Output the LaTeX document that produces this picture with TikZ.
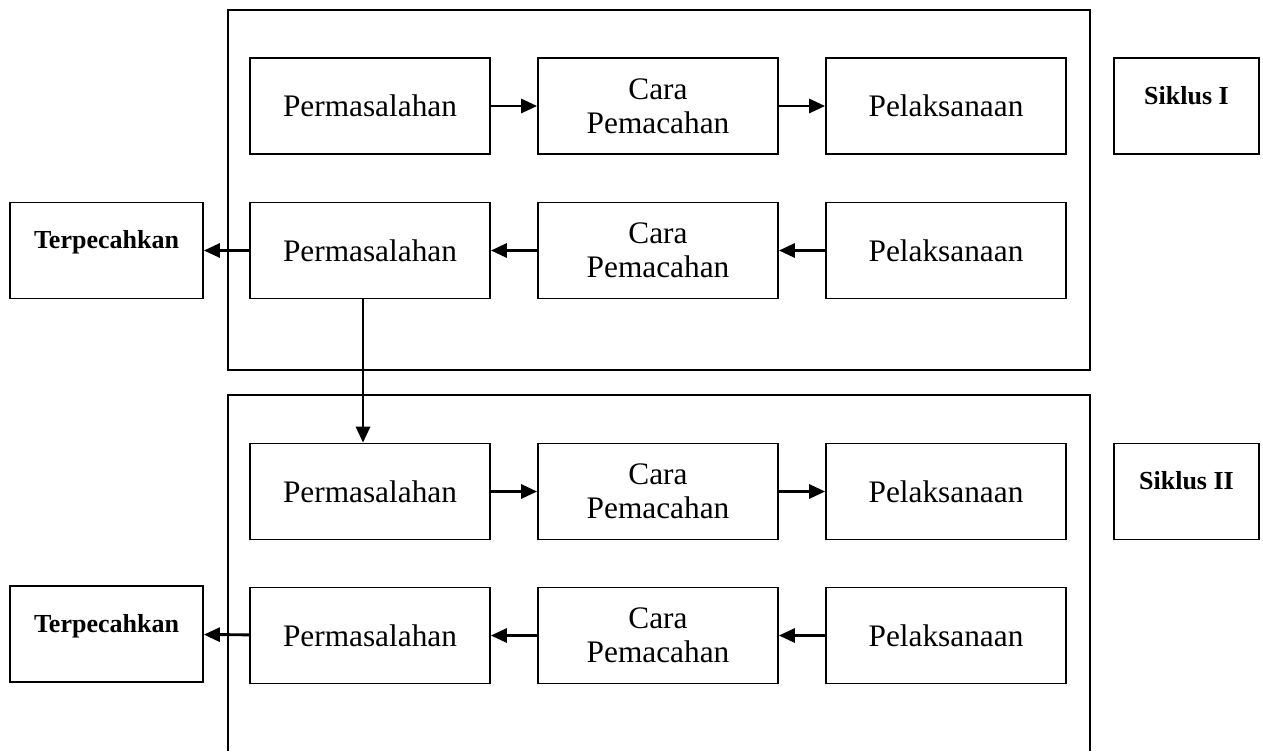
\documentclass[tikz,border=0pt]{standalone}
\usepackage{fontspec}
\setmainfont{Liberation Serif}
\usetikzlibrary{arrows.meta,positioning,calc}

\begin{document}
\begin{tikzpicture}[
    x=0.75pt, y=-0.75pt,
    >={Triangle[length=12pt,width=10.5pt]},
    stepBox/.style={draw, line width=1.3pt, minimum width=180pt, minimum height=72pt,
      align=center, font=\fontsize{23.5}{25.5}\selectfont},
    sideBox/.style={draw, line width=1.3pt, minimum height=72pt, text height=14pt, text depth=17pt,
      font=\fontsize{19.5}{22}\selectfont\bfseries},
    frameLine/.style={draw, line width=1.3pt},
    flow/.style={->, line width=2.2pt},
  ]
  \useasboundingbox (0,0) rectangle (1263,751);
  % frames
  \draw[frameLine] (228,10) rectangle (1090,370);
  \draw[frameLine] (228,751) -- (228,395) -- (1090,395) -- (1090,751);
  % siklus I
  \node[stepBox] (probA) at (370,106) {Permasalahan};
  \node[stepBox] (caraA) at (658,106) {Cara\\Pemacahan};
  \node[stepBox] (pelA)  at (946,106) {Pelaksanaan};
  \node[stepBox] (probB) at (370,250.5) {Permasalahan};
  \node[stepBox] (caraB) at (658,250.5) {Cara\\Pemacahan};
  \node[stepBox] (pelB)  at (946,250.5) {Pelaksanaan};
  \node[sideBox, minimum width=108.75pt] (siklusA) at (1186.5,106) {Siklus I};
  \node[sideBox, minimum width=144.75pt] (doneA) at (106.5,250.5) {Terpecahkan};
  % siklus II
  \node[stepBox] (probC) at (370,491.5) {Permasalahan};
  \node[stepBox] (caraC) at (658,491.5) {Cara\\Pemacahan};
  \node[stepBox] (pelC)  at (946,491.5) {Pelaksanaan};
  \node[stepBox] (probD) at (370,635.5) {Permasalahan};
  \node[stepBox] (caraD) at (658,635.5) {Cara\\Pemacahan};
  \node[stepBox] (pelD)  at (946,635.5) {Pelaksanaan};
  \node[sideBox, minimum width=108.75pt] (siklusB) at (1186.5,491.5) {Siklus II};
  \node[sideBox, minimum width=144.75pt] (doneB) at (106.5,634) {Terpecahkan};
  % arrows
  \draw[flow] (probA) -- (caraA);
  \draw[flow] (caraA) -- (pelA);
  \draw[flow] (pelB) -- (caraB);
  \draw[flow] (caraB) -- (probB);
  \draw[flow] (probB) -- (doneA);
  \draw[flow] ([xshift=-5.25pt]probB.south) -- ([xshift=-5.25pt]probC.north);
  \draw[flow] (probC) -- (caraC);
  \draw[flow] (caraC) -- (pelC);
  \draw[flow] (pelD) -- (caraD);
  \draw[flow] (caraD) -- (probD);
  \draw[flow] (probD) -- (doneB);
\end{tikzpicture}
\end{document}
